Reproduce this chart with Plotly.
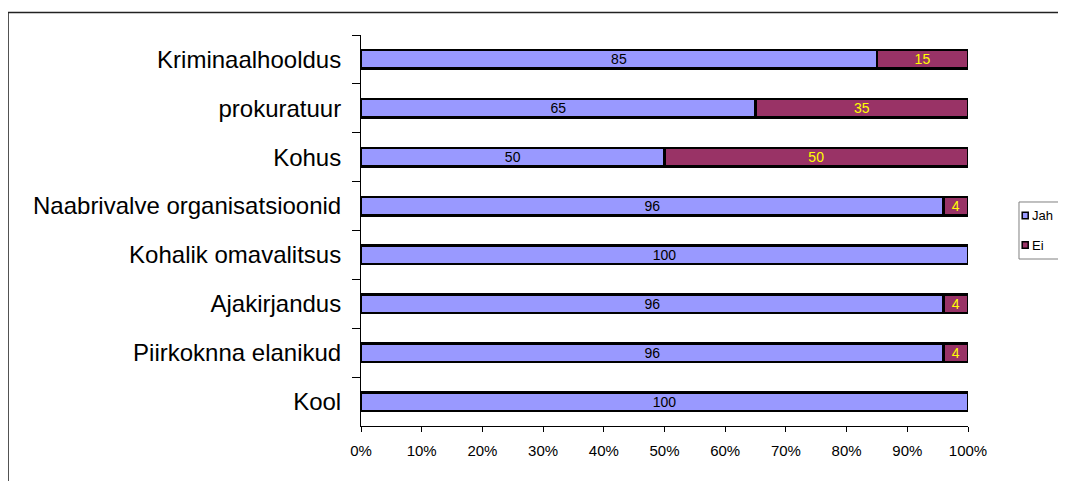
import plotly.graph_objects as go

categories = ["Kriminaalhooldus", "prokuratuur", "Kohus", "Naabrivalve organisatsioonid",
              "Kohalik omavalitsus", "Ajakirjandus", "Piirkoknna elanikud", "Kool"]
jah = [85, 65, 50, 96, 100, 96, 96, 100]
ei = [15, 35, 50, 4, 0, 4, 4, 0]
x_ticks = [0, 10, 20, 30, 40, 50, 60, 70, 80, 90, 100]
series_names = ["Jah", "Ei"]
series_colors = ["#9999FF", "#993366"]

FONT = "Liberation Sans, Arial, sans-serif"

fig = go.Figure()
fig.add_trace(go.Bar(
    y=categories, x=jah, name=series_names[0], orientation="h",
    marker=dict(color=series_colors[0], line=dict(color="black", width=2.5)),
    text=[str(v) if v else "" for v in jah], textposition="inside",
    insidetextanchor="middle", textangle=0, constraintext="none",
    textfont=dict(color="black", size=14, family=FONT),
    hoverinfo="skip",
))
fig.add_trace(go.Bar(
    y=categories, x=[v if v else None for v in ei], name=series_names[1], orientation="h",
    marker=dict(color=series_colors[1], line=dict(color="black", width=2.5)),
    text=[str(v) if v else "" for v in ei], textposition="inside",
    insidetextanchor="middle", textangle=0, constraintext="none",
    textfont=dict(color="#FFFF00", size=14, family=FONT),
    hoverinfo="skip",
))

# legend drawn as a compact box (paper coordinates)
shapes = [
    dict(type="rect", xref="paper", yref="paper", x0=-0.5815, x1=1.2, y0=-0.3, y1=1.0575,
         line=dict(color="#222222", width=1.5), fillcolor="rgba(0,0,0,0)", layer="below"),
    dict(type="rect", xref="paper", yref="paper", x0=1.084, x1=1.2, y0=0.4271, y1=0.5729,
         line=dict(color="#808080", width=1), fillcolor="white", layer="above"),
]
annotations = []
leg_y = [0.5384, 0.4629]
for name, col, yc in zip(series_names, series_colors, leg_y):
    shapes.append(dict(type="rect", xref="paper", yref="paper",
                       x0=1.0893, x1=1.0992, y0=yc - 0.0085, y1=yc + 0.0085,
                       line=dict(color="black", width=1.5), fillcolor=col, layer="above"))
    annotations.append(dict(xref="paper", yref="paper", x=1.1015, y=yc, text=name,
                            showarrow=False, xanchor="left", yanchor="middle",
                            font=dict(size=13, family=FONT, color="black")))

fig.update_layout(
    width=1058, height=473,
    barmode="stack", bargap=0.62,
    margin=dict(l=353, r=98, t=27, b=55, autoexpand=False),
    paper_bgcolor="white", plot_bgcolor="white",
    font=dict(family=FONT, color="black"),
    showlegend=False,
    xaxis=dict(range=[0, 100], tickvals=x_ticks, ticktext=[f"{v}%" for v in x_ticks],
               ticks="outside", ticklen=5, tickcolor="black", showline=True,
               linecolor="black", linewidth=1, showgrid=False, zeroline=False,
               tickfont=dict(size=15), ticklabelstandoff=6, automargin=False),
    yaxis=dict(categoryorder="array", categoryarray=categories, autorange="reversed",
               ticks="outside", ticklen=8, tickcolor="black", tickson="boundaries",
               showline=True, linecolor="black", linewidth=1, showgrid=False,
               tickfont=dict(size=24), ticklabelstandoff=14, automargin=False),
    shapes=shapes,
    annotations=annotations,
)

fig.write_html("out.html")
